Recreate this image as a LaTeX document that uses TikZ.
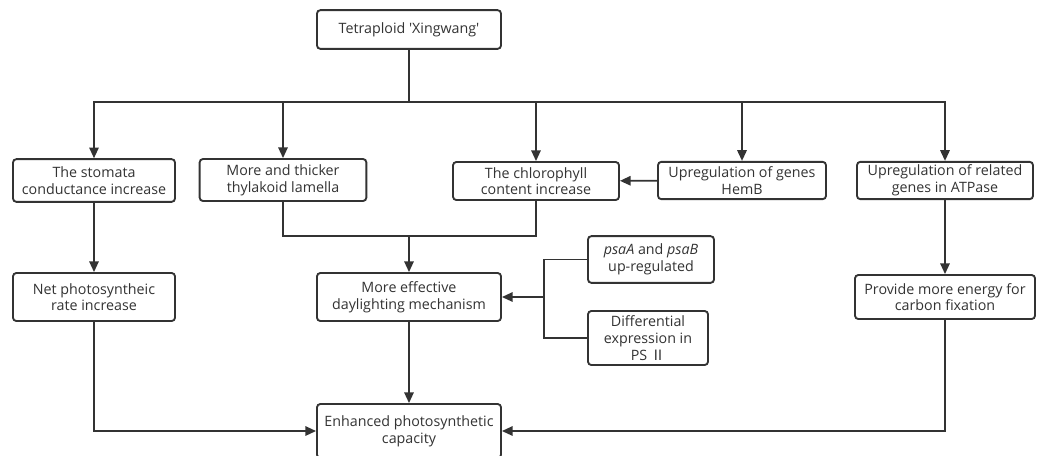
\documentclass[tikz,border=0pt]{standalone}
\usepackage{fontspec}
\setmainfont{Open Sans}
\newfontfamily\cjk{Noto Sans CJK SC}
\usetikzlibrary{arrows.meta}
\definecolor{fcline}{HTML}{333333}
\tikzset{
  bx/.style  = {rectangle, rounded corners=2.5pt, draw=fcline, line width=1.4pt,
                fill=white, align=center, inner sep=1pt, text=fcline,
                font=\fontsize{10.7}{12.5}\selectfont},
  ln/.style  = {draw=fcline, line width=1.4pt},
  arr/.style = {ln, -{Triangle[length=8pt,width=7pt]}},
}

\begin{document}
\begin{tikzpicture}[x=0.75pt,y=-0.75pt]
  \useasboundingbox (0,0) rectangle (1045,455);
  \node[bx,minimum width=138pt,minimum height=29pt] (top) at (409,29.5) {Tetraploid \textquotesingle Xingwang\textquotesingle};
  \node[bx,minimum width=121.5pt,minimum height=32pt] (stoma) at (94,180.5) {The stomata\\conductance increase};
  \node[bx,minimum width=125pt,minimum height=31.5pt] (thyl) at (283,180) {More and thicker\\thylakoid lamella};
  \node[bx,minimum width=124.5pt,minimum height=28.5pt] (chl) at (536,181) {The chlorophyll\\content increase};
  \node[bx,minimum width=126pt,minimum height=28pt] (hemb) at (742,180.5) {Upregulation of genes\\HemB};
  \node[bx,minimum width=132pt,minimum height=28pt] (atp) at (945,180.5) {Upregulation of related\\genes in ATPase};
  \node[bx,minimum width=121.5pt,minimum height=36pt] (net) at (94,297) {Net photosyntheic\\rate increase};
  \node[bx,minimum width=138pt,minimum height=36pt] (day) at (409,297) {More effective\\daylighting mechanism};
  \node[bx,minimum width=94.5pt,minimum height=35pt] (psa) at (651,259.5) {\textit{psaA} and \textit{psaB}\\up-regulated};
  \node[bx,minimum width=90pt,minimum height=40.5pt] (diff) at (648,338) {Differential\\expression in\\PS {\cjk Ⅱ}};
  \node[bx,minimum width=135pt,minimum height=33pt] (energy) at (945,297) {Provide more energy for\\carbon fixation};
  \node[bx,minimum width=138pt,minimum height=40.5pt] (enh) at (409,431) {Enhanced photosynthetic\\capacity};
  \coordinate (br) at (409,102);
  \coordinate (mg) at (409,236);
  \coordinate (bk) at (544,297);
  \draw[ln] (top) -- (br);
  \foreach \n in {stoma,thyl,chl,hemb,atp} \draw[arr] (br) -| (\n.north);
  \draw[arr] (hemb) -- (chl);
  \draw[ln] (thyl.south) |- (mg) -| (chl.south);
  \draw[arr] (mg) -- (day);
  \draw[ln] (psa.west) -| (bk);
  \draw[ln] (diff.west) -| (bk);
  \draw[arr] (bk) -- (day);
  \draw[arr] (stoma) -- (net);
  \draw[arr] (atp) -- (energy);
  \draw[arr] (day) -- (enh);
  \draw[arr] (net.south) |- (enh.west);
  \draw[arr] (energy.south) |- (enh.east);
\end{tikzpicture}
\end{document}
